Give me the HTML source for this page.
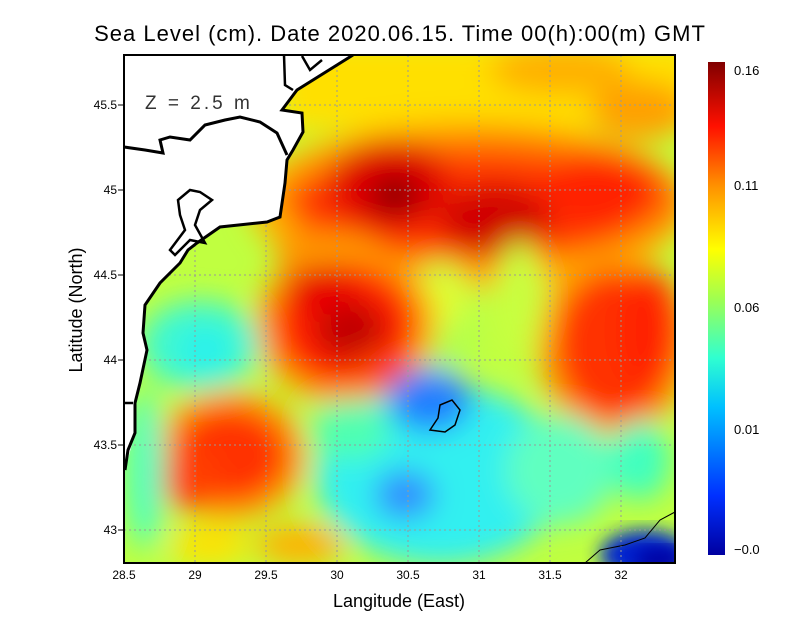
<!DOCTYPE html>
<html><head><meta charset="utf-8"><style>
body{margin:0;background:#fff;width:800px;height:618px;overflow:hidden;font-family:"Liberation Sans",sans-serif}
</style></head><body>
<svg width="800" height="618" viewBox="0 0 800 618" xmlns="http://www.w3.org/2000/svg" font-family="Liberation Sans, sans-serif">
<defs>
<filter id="b" x="-20%" y="-20%" width="140%" height="140%"><feGaussianBlur stdDeviation="14"/></filter>
<filter id="b2" x="-20%" y="-20%" width="140%" height="140%"><feGaussianBlur stdDeviation="9"/></filter>
<clipPath id="c"><rect x="124" y="55" width="551" height="508"/></clipPath>
<linearGradient id="cb" x1="0" y1="1" x2="0" y2="0">
<stop offset="0" stop-color="#0000a0"/><stop offset="0.12" stop-color="#0030ff"/>
<stop offset="0.3" stop-color="#00c0ff"/><stop offset="0.4" stop-color="#30ffd0"/>
<stop offset="0.52" stop-color="#a0ff50"/><stop offset="0.62" stop-color="#ffff00"/>
<stop offset="0.75" stop-color="#ff9000"/><stop offset="0.87" stop-color="#ff1000"/>
<stop offset="1" stop-color="#800000"/></linearGradient>
</defs>
<g clip-path="url(#c)">
<rect x="124" y="55" width="551" height="508" fill="#c0ff40"/>
<g filter="url(#b)">
<rect x="280" y="40" width="420" height="90" fill="#ffe000"/>
<ellipse cx="560" cy="70" rx="70" ry="25" fill="#ffb000"/>
<ellipse cx="640" cy="110" rx="50" ry="30" fill="#ffa000"/>
<ellipse cx="470" cy="205" rx="220" ry="85" fill="#ffb000"/>
<ellipse cx="480" cy="200" rx="200" ry="65" fill="#ff7000"/>
<ellipse cx="470" cy="205" rx="175" ry="48" fill="#ff3000"/>
<ellipse cx="390" cy="185" rx="60" ry="45" fill="#e00000"/>
<ellipse cx="395" cy="195" rx="25" ry="20" fill="#900000"/>
<ellipse cx="495" cy="220" rx="55" ry="35" fill="#d00000"/>
<ellipse cx="600" cy="190" rx="60" ry="35" fill="#ff2000"/>
<ellipse cx="330" cy="255" rx="55" ry="25" fill="#ff9000"/>
<ellipse cx="440" cy="320" rx="35" ry="60" fill="#b0ff50"/>
<ellipse cx="440" cy="300" rx="25" ry="30" fill="#e0ff30"/>
<ellipse cx="345" cy="325" rx="90" ry="80" fill="#ffa000"/>
<ellipse cx="345" cy="325" rx="72" ry="62" fill="#ff2000"/>
<ellipse cx="350" cy="330" rx="35" ry="30" fill="#c00000"/>
<ellipse cx="320" cy="290" rx="35" ry="25" fill="#e80000"/>
<ellipse cx="380" cy="370" rx="30" ry="20" fill="#ff4000"/>
<ellipse cx="615" cy="345" rx="78" ry="92" fill="#ffa000"/>
<ellipse cx="615" cy="345" rx="60" ry="75" fill="#ff3000"/>
<ellipse cx="650" cy="330" rx="30" ry="60" fill="#ff2000"/>
<ellipse cx="520" cy="300" rx="25" ry="60" fill="#c8ff40"/>
<ellipse cx="230" cy="455" rx="76" ry="65" fill="#ffa000"/>
<ellipse cx="230" cy="455" rx="58" ry="48" fill="#ff3000"/>
<ellipse cx="190" cy="480" rx="30" ry="30" fill="#ff4000"/>
<ellipse cx="200" cy="345" rx="60" ry="45" fill="#40f8d0"/>
<ellipse cx="205" cy="350" rx="25" ry="20" fill="#20f0f0"/>
<ellipse cx="145" cy="470" rx="20" ry="80" fill="#50ffc0"/>
<ellipse cx="440" cy="475" rx="125" ry="90" fill="#30f0f0"/>
<ellipse cx="350" cy="430" rx="40" ry="30" fill="#50ffb0"/>
<ellipse cx="560" cy="470" rx="55" ry="55" fill="#60ffc0"/>
<ellipse cx="430" cy="400" rx="42" ry="32" fill="#2080ff"/>
<ellipse cx="405" cy="495" rx="30" ry="25" fill="#3090ff"/>
<ellipse cx="640" cy="460" rx="30" ry="40" fill="#40ffc0"/>
<ellipse cx="300" cy="545" rx="45" ry="20" fill="#ffb000"/>
<ellipse cx="210" cy="545" rx="40" ry="20" fill="#ffe000"/>
</g>
<ellipse cx="645" cy="555" rx="45" ry="25" fill="#0020d0" filter="url(#b2)"/>
<ellipse cx="660" cy="560" rx="25" ry="12" fill="#0000a0" filter="url(#b2)"/>
<g stroke="#999" stroke-width="1" stroke-dasharray="2,3">
<path d="M195 55V563M266 55V563M337 55V563M408 55V563M479 55V563M550 55V563M621 55V563"/>
<path d="M124 105H675M124 190H675M124 275H675M124 360H675M124 445H675M124 530H675"/>
</g>
<polygon points="124,55 353,55 297,90 282,110 302,113 303,132 293,150 287,160 285,183 280,217 267,222 220,227 197,243 188,250 180,263 160,283 145,305 143,333 147,350 140,383 135,403 135,433 125,470" fill="#fff"/>
<polyline points="353,55 297,90 282,110 302,113 303,132 293,150 287,160 285,183 280,217 267,222 220,227 197,243 188,250 180,263 160,283 145,305 143,333 147,350 140,383 135,403 135,433 128,450 125,470" fill="none" stroke="#000" stroke-width="3"/>
<path d="M124,147 L145,150 163,153 160,140 170,137 190,140 205,125 225,120 240,117 260,122 277,133 287,155" fill="none" stroke="#000" stroke-width="3"/>
<path d="M190,190 L178,200 180,215 185,230 170,250 175,255 190,240 205,243 195,225 200,210 212,200 200,192 Z" fill="none" stroke="#000" stroke-width="2.5"/>
<path d="M284,55 L285,85 293,90 M302,56 L310,70 322,60 M124,403 L133,403" fill="none" stroke="#000" stroke-width="2.5"/>
<path d="M440,405 L452,400 460,410 455,425 445,432 430,430 438,418 Z" fill="none" stroke="#000" stroke-width="1.5"/>
<path d="M585,563 L600,550 625,545 645,538 660,520 675,512" fill="none" stroke="#000" stroke-width="1"/>
<text x="145" y="109" font-size="19" fill="#333" letter-spacing="3">Z = 2.5 m</text>
</g>
<rect x="124" y="55" width="551" height="508" fill="none" stroke="#000" stroke-width="2"/>
<g font-size="12" fill="#000">
<text x="124" y="579" text-anchor="middle">28.5</text><text x="195" y="579" text-anchor="middle">29</text>
<text x="266" y="579" text-anchor="middle">29.5</text><text x="337" y="579" text-anchor="middle">30</text>
<text x="408" y="579" text-anchor="middle">30.5</text><text x="479" y="579" text-anchor="middle">31</text>
<text x="550" y="579" text-anchor="middle">31.5</text><text x="621" y="579" text-anchor="middle">32</text>
<text x="117" y="109" text-anchor="end">45.5</text><text x="117" y="194" text-anchor="end">45</text>
<text x="117" y="279" text-anchor="end">44.5</text><text x="117" y="364" text-anchor="end">44</text>
<text x="117" y="449" text-anchor="end">43.5</text><text x="117" y="534" text-anchor="end">43</text>
</g>
<g stroke="#000"><path d="M118 105H124M118 190H124M118 275H124M118 360H124M118 445H124M118 530H124"/></g>
<text x="400" y="41" font-size="22" text-anchor="middle" letter-spacing="1">Sea Level (cm). Date 2020.06.15. Time 00(h):00(m) GMT</text>
<text x="399" y="607" font-size="18" text-anchor="middle">Langitude (East)</text>
<text transform="translate(82,310) rotate(-90)" font-size="18" text-anchor="middle">Latitude (North)</text>
<rect x="708" y="62" width="17" height="493" fill="url(#cb)"/>
<g font-size="13"><text x="734" y="75">0.16</text><text x="734" y="190">0.11</text><text x="734" y="312">0.06</text><text x="734" y="434">0.01</text><text x="734" y="554">−0.0</text></g>
</svg>
</body></html>
